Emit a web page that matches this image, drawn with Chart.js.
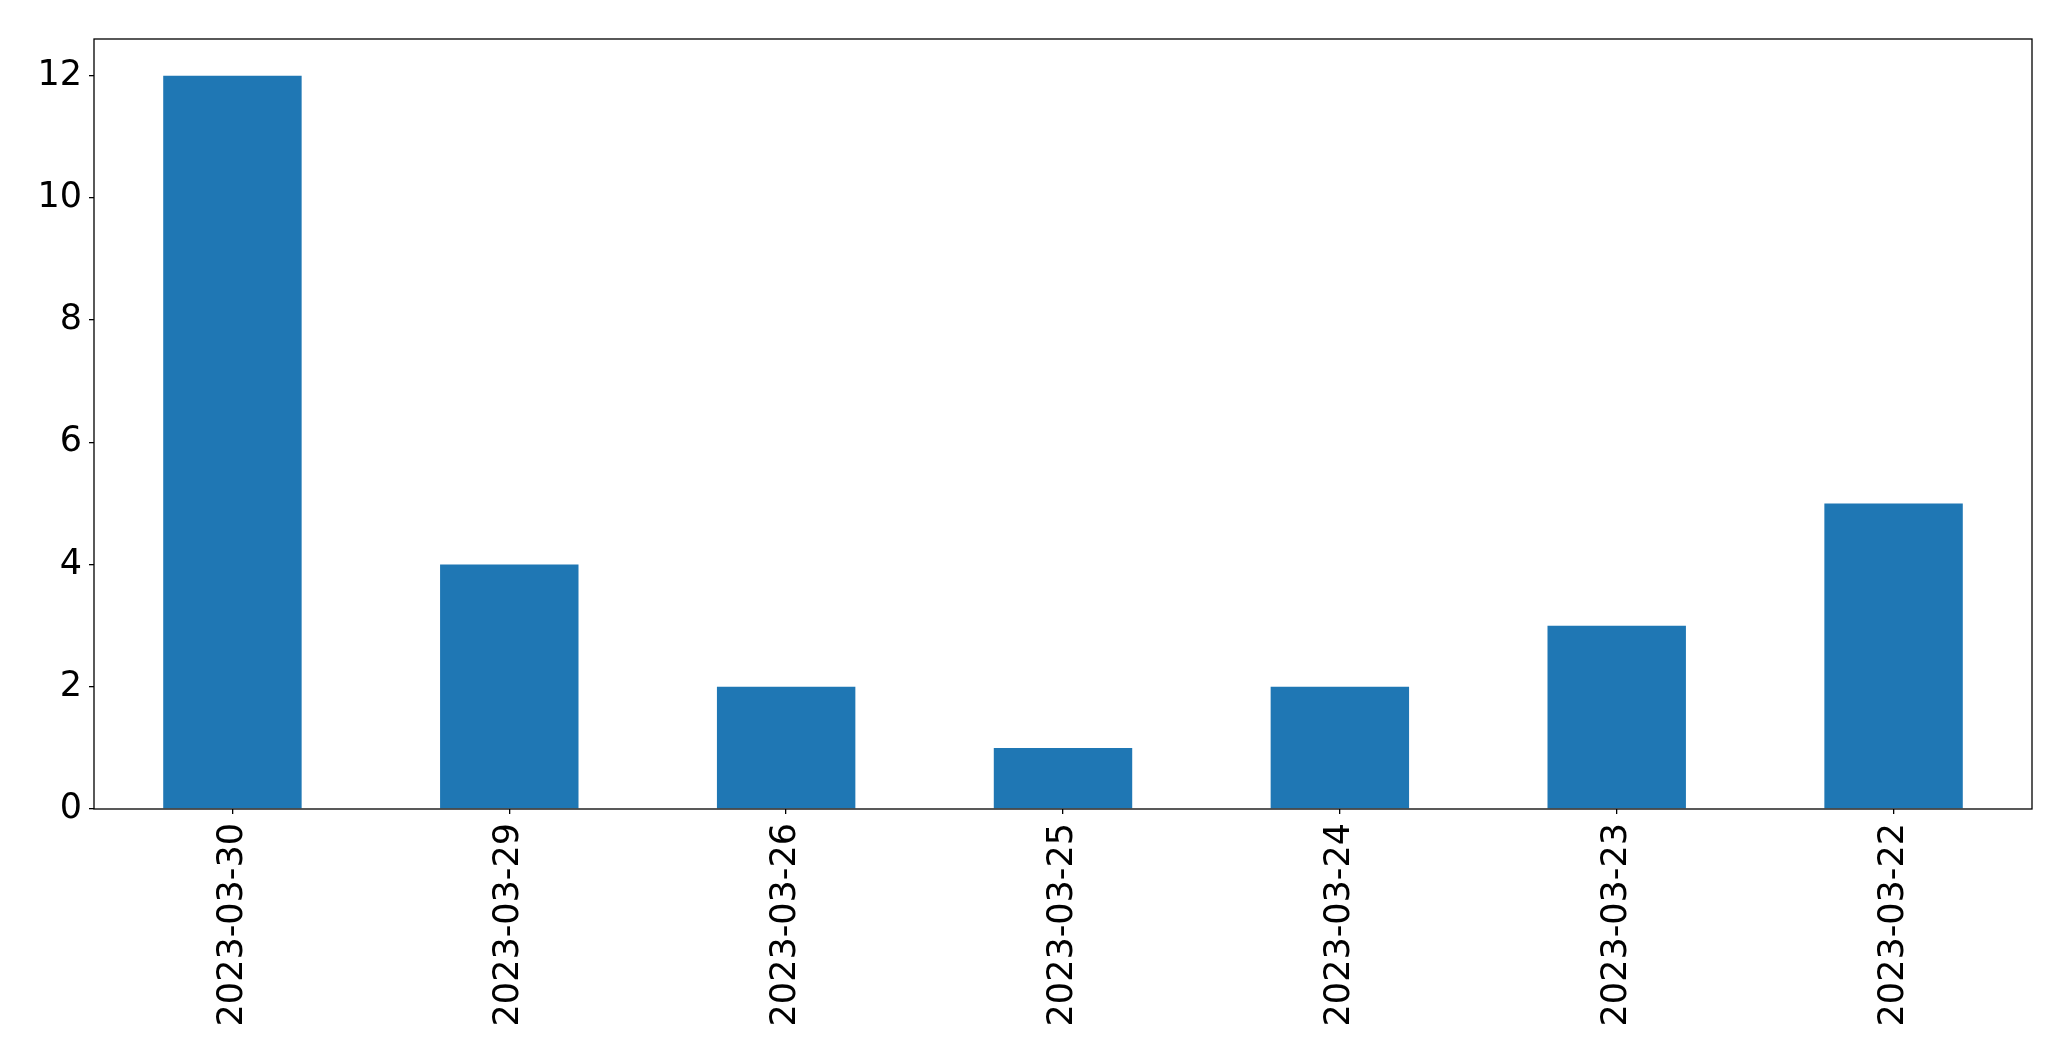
<!DOCTYPE html>
<html>
<head>
<meta charset="utf-8">
<script src="https://cdn.jsdelivr.net/npm/chart.js@4"></script>
<style>
  html, body { margin: 0; padding: 0; background: #fff; }
</style>
</head>
<body>
<canvas id="myChart" width="2071" height="1061"></canvas>
<script>
const labels = ['2023-03-30', '2023-03-29', '2023-03-26', '2023-03-25', '2023-03-24', '2023-03-23', '2023-03-22'];
const counts = [12, 4, 2, 1, 2, 3, 5];
const yTicks = [0, 2, 4, 6, 8, 10, 12];

// box round the plot area, like matplotlib's spines
const frame = {
    id: 'frame',
    afterDraw(chart) {
        const a = chart.chartArea;
        const c = chart.ctx;
        c.save();
        c.strokeStyle = '#000';
        c.lineWidth = 1.3;
        c.strokeRect(a.left, a.top, a.right - a.left, a.bottom - a.top);
        c.restore();
    }
};

const ctx = document.getElementById('myChart');

new Chart(ctx, {
type: 'bar',
data: {
    labels: labels,
    datasets: [{
        data: counts,
        backgroundColor: '#1f77b4',
        borderWidth: 0,
        barPercentage: 0.5,
        categoryPercentage: 1.0
    }]
},
options: {
    responsive: false,
    animation: false,
    layout: {
        padding: { top: 39, right: 39, left: 0, bottom: 0 }
    },
    plugins: {
        legend: { display: false },
        tooltip: { enabled: false }
    },
    scales: {
        x: {
            grid: {
                display: true,
                offset: false,
                drawOnChartArea: false,
                drawTicks: true,
                tickLength: 5,
                color: '#000',
                lineWidth: 1.3
            },
            border: { display: false },
            ticks: {
                color: '#000',
                font: { family: 'DejaVu Sans', size: 35 },
                minRotation: 90,
                maxRotation: 90,
                padding: 9,
                autoSkip: false
            },
            afterFit(scale) { scale.height = 252; }
        },
        y: {
            min: 0,
            max: 12.6,
            grid: {
                display: true,
                drawOnChartArea: false,
                drawTicks: true,
                tickLength: 5,
                color: '#000',
                lineWidth: 1.3
            },
            border: { display: false },
            ticks: {
                color: '#000',
                font: { family: 'DejaVu Sans', size: 35 },
                padding: 7
            },
            afterBuildTicks(scale) {
                scale.ticks = yTicks.map(v => ({ value: v }));
            },
            afterFit(scale) { scale.width = 94; }
        }
    }
},
plugins: [frame]
})
</script>
</body>
</html>
